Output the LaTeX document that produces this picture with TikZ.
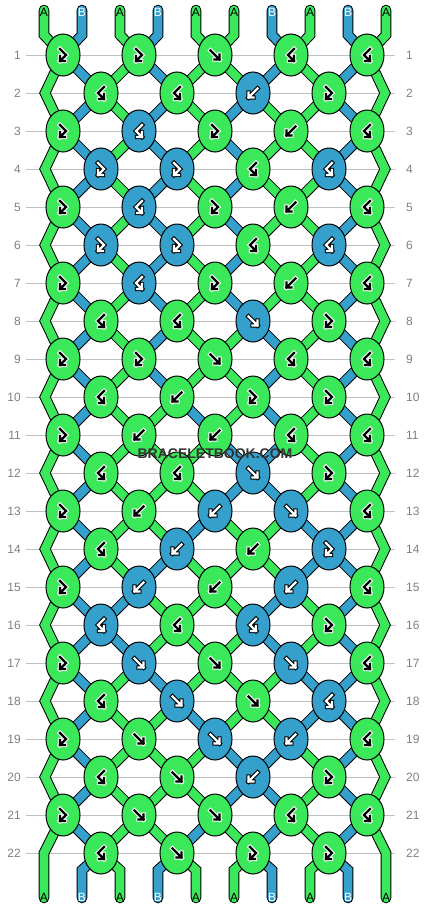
\documentclass[tikz,border=0pt]{standalone}
\usepackage{fontspec}
\setmainfont{Liberation Sans}
\usetikzlibrary{shapes.geometric}
\pgfdeclarelayer{lines}
\pgfdeclarelayer{strands}
\pgfsetlayers{lines,strands,main}
\definecolor{cG}{RGB}{59,232,90}
\definecolor{cB}{RGB}{52,160,203}
\colorlet{oG}{white}\colorlet{iG}{black}
\colorlet{oB}{black}\colorlet{iB}{white}
\colorlet{tA}{black}\colorlet{tB}{white}
\definecolor{rowlinec}{RGB}{192,192,192}
\definecolor{rownumc}{RGB}{128,128,128}
\definecolor{wmc}{RGB}{51,51,51}
\newcommand\gpf{(-4.5,-4.5)--(4.5,4.5) (4.5,-0.5)--(4.5,4.5)--(-0.5,4.5)}
\newcommand\gpb{(4.5,-4.5)--(-4.5,4.5) (-4.5,-0.5)--(-4.5,4.5)--(0.5,4.5)}
\newcommand\gpfb{(-3,-6)--(3,0)--(-3,6) (-3,1)--(-3,6)--(2,6)}
\newcommand\gpbf{(3,-6)--(-3,0)--(3,6) (3,1)--(3,6)--(-2,6)}
\newcommand\drawglyph[3]{%
  \expandafter\let\expandafter\glyphpath\csname gp#1\endcsname
  \draw[shift={(#3.center)},line width=4.4pt,draw=o#2,line cap=rect,line join=miter] \glyphpath;
  \draw[shift={(#3.center)},line width=2.4pt,draw=i#2,line cap=rect,line join=miter] \glyphpath;}
\begin{document}
\begin{tikzpicture}[x=1pt,y=-1pt,
  knot/.style={ellipse,draw=black,line width=1pt,minimum width=34pt,minimum height=42pt,inner sep=0pt},
  seg/.code={\ifnum\pass=0 \pgfkeysalso{draw=black,line width=10.6pt}\else\pgfkeysalso{draw=#1,line width=8.6pt}\fi},
  strandbase/.style={line cap=round,line join=miter},
  lab/.style={font=\fontsize{12}{12}\selectfont,inner sep=0pt},
  rownum/.style={font=\fontsize{12}{12}\selectfont,text=rownumc,inner sep=0pt},
  rowline/.style={draw=rowlinec,line width=1pt},
  wmfont/.style={font=\bfseries\fontsize{14}{14}\selectfont,inner sep=1pt}]
\useasboundingbox (0,0) rectangle (430,908);
\begin{pgfonlayer}{lines}
\fill[white] (0,0) rectangle (430,908);
\end{pgfonlayer}
% row numbers and lines
\foreach \r in {1,...,22}{
  \pgfmathsetmacro\y{55+38*(\r-1)}
  \node[rownum,anchor=east] (nl-\r) at (21,\y) {\r};
  \node[rownum,anchor=west] (nr-\r) at (406,\y) {\r};
  \begin{pgfonlayer}{lines}
  \draw[rowline] ([xshift=5pt]nl-\r.east) -- ([xshift=-11pt]nr-\r.west);
  \end{pgfonlayer}
}
% knots
\foreach \r/\row in {1/{fb/G,fb/G,f/G,bf/G,bf/G},
 2/{bf/G,bf/G,b/B,fb/G},
 3/{fb/G,bf/B,fb/G,b/G,bf/G},
 4/{fb/B,fb/B,bf/G,bf/B},
 5/{fb/G,bf/B,fb/G,b/G,bf/G},
 6/{fb/B,fb/B,bf/G,bf/B},
 7/{fb/G,bf/B,fb/G,b/G,bf/G},
 8/{bf/G,bf/G,f/B,fb/G},
 9/{fb/G,fb/G,f/G,bf/G,bf/G},
 10/{bf/G,b/G,fb/G,fb/G},
 11/{fb/G,b/G,b/G,bf/G,bf/G},
 12/{bf/G,bf/G,f/B,fb/G},
 13/{fb/G,b/G,b/B,f/B,bf/G},
 14/{bf/G,b/B,b/G,fb/B},
 15/{fb/G,b/B,b/G,b/B,bf/G},
 16/{bf/B,bf/G,bf/B,fb/G},
 17/{fb/G,f/B,f/G,f/B,bf/G},
 18/{bf/G,f/B,f/G,bf/B},
 19/{fb/G,f/G,f/B,b/B,bf/G},
 20/{bf/G,f/G,b/B,fb/G},
 21/{fb/G,f/G,f/G,bf/G,bf/G},
 22/{bf/G,f/G,fb/G,fb/G}}{
  \pgfmathsetmacro\y{55+38*(\r-1)}
  \pgfmathtruncatemacro\odd{mod(\r,2)}
  \foreach \kt/\kc [count=\i] in \row {
    \pgfmathsetmacro\x{(\odd==1?63:101)+76*(\i-1)}
    \node[knot,fill=c\kc] (k-\r-\i) at (\x,\y) {};
    \drawglyph{\kt}{\kc}{k-\r-\i}
  }
}
% coordinates
\foreach \pp in {1,...,10}{
  \pgfmathsetmacro\x{44+38*(\pp-1)}
  \coordinate (t-\pp) at (\x,10);
  \coordinate (tb-\pp) at (\x,35);
  \coordinate (b-\pp) at (\x,898);
  \coordinate (bb-\pp) at (\x,870);
}
\coordinate (bb-1) at (44,853);
\coordinate (bb-10) at (386,853);
\foreach \r in {2,4,...,20}{
  \pgfmathsetmacro\y{55+38*(\r-1)}
  \coordinate (eL-\r) at (45,\y);
  \coordinate (eR-\r) at (385,\y);
}
% strands
\begin{pgfonlayer}{strands}
\foreach \pass in {0,1}{
  \foreach \sc [count=\pp] in {G,B,G,B,G,G,B,G,B,G}{
    \pgfmathtruncatemacro\up{(\pp+1)/2}
    \draw[strandbase,seg=c\sc] (t-\pp) -- (tb-\pp) -- (k-1-\up.center);
  }
  \foreach \r/\s in {1/{G,B,G,B,G,G,B,G,B,G},
   2/{G,B,G,B,G,B,G,G,B,G},
   3/{G,B,G,B,G,B,G,G,B,G},
   4/{G,B,G,B,G,B,G,G,B,G},
   5/{G,B,G,B,G,B,G,G,B,G},
   6/{G,B,G,B,G,B,G,G,B,G},
   7/{G,B,G,B,G,B,G,G,B,G},
   8/{G,B,G,B,G,G,B,G,B,G},
   9/{G,B,G,B,G,G,B,G,B,G},
   10/{G,B,G,G,B,G,B,G,B,G},
   11/{G,B,G,G,G,B,B,G,B,G},
   12/{G,B,G,G,G,B,B,G,B,G},
   13/{G,B,G,G,B,G,G,B,B,G},
   14/{G,B,G,B,G,G,G,B,B,G},
   15/{G,B,B,G,G,G,B,G,B,G},
   16/{G,B,B,G,G,G,B,G,B,G},
   17/{G,B,G,B,G,G,G,B,B,G},
   18/{G,B,G,G,B,G,G,B,B,G},
   19/{G,B,G,G,G,B,B,G,B,G},
   20/{G,B,G,G,G,B,B,G,B,G},
   21/{G,B,G,G,B,G,B,G,B,G},
   22/{G,B,G,B,G,G,B,G,B,G}}{
    \pgfmathtruncatemacro\odd{mod(\r,2)}
    \pgfmathtruncatemacro\nr{\r+1}
    \pgfmathtruncatemacro\nnr{\r+2}
    \foreach \sc [count=\pp] in \s {
      \pgfmathtruncatemacro\up{(\pp+1)/2}
      \pgfmathtruncatemacro\dn{\pp/2}
      \ifnum\odd=1
        \ifnum\pp=1
          \ifnum\r=21
            \draw[strandbase,seg=c\sc] (k-\r-1.center) -- (bb-1) -- (b-1);
          \else
            \draw[strandbase,seg=c\sc] (k-\r-1.center) -- (eL-\nr) -- (k-\nnr-1.center);
          \fi
        \else
          \ifnum\pp=10
            \ifnum\r=21
              \draw[strandbase,seg=c\sc] (k-\r-5.center) -- (bb-10) -- (b-10);
            \else
              \draw[strandbase,seg=c\sc] (k-\r-5.center) -- (eR-\nr) -- (k-\nnr-5.center);
            \fi
          \else
            \draw[strandbase,seg=c\sc] (k-\r-\up.center) -- (k-\nr-\dn.center);
          \fi
        \fi
      \else
        \ifnum\pp>1 \ifnum\pp<10
          \ifnum\r=22
            \draw[strandbase,seg=c\sc] (k-\r-\dn.center) -- (bb-\pp) -- (b-\pp);
          \else
            \draw[strandbase,seg=c\sc] (k-\r-\dn.center) -- (k-\nr-\up.center);
          \fi
        \fi\fi
      \fi
    }
  }
}
\end{pgfonlayer}
% strand letters
\foreach \labl [count=\pp] in {A,B,A,B,A,A,B,A,B,A}{
  \pgfmathsetmacro\x{44+38*(\pp-1)}
  \node[lab,text=t\labl] (lt-\pp) at (\x,12.5) {\labl};
  \node[lab,text=t\labl] (lb-\pp) at (\x,897) {\labl};
}
% watermark
\node[wmfont,text=wmc] (wm) at (215,453.5) {BRACELETBOOK.COM};
\end{tikzpicture}
\end{document}
